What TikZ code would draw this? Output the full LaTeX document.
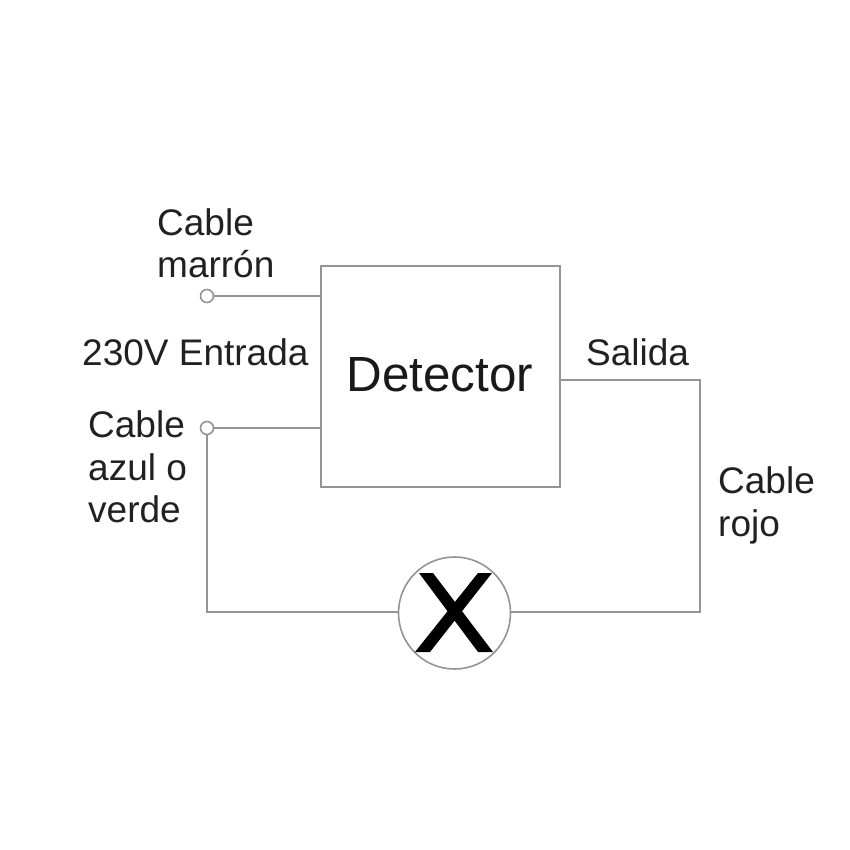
\documentclass[tikz,border=0pt]{standalone}
\usepackage{fontspec}
\setmainfont{Liberation Sans}
\definecolor{wire}{gray}{0.58}
\definecolor{ink}{gray}{0.13}
\tikzset{
  wireline/.style={draw=wire,line width=2pt},
  lbl/.style={inner sep=0pt,text=ink,font=\fontsize{37}{42}\selectfont,anchor=base west,align=left},
  terminal/.style={circle,draw=wire,fill=white,line width=1.6pt,minimum size=13pt,inner sep=0pt},
}
\begin{document}
\begin{tikzpicture}[x=1pt,y=-1pt]
\useasboundingbox (0,0) rectangle (850,850);
\fill[white] (0,0) rectangle (850,850);
\node[draw=wire,line width=2pt,minimum width=239pt,minimum height=220.5pt,inner sep=0pt,anchor=north west] (det) at (319.5,265) {};
\node[inner sep=0pt,text=black!90,font=\fontsize{49.4}{55}\selectfont] (dettext) at (440,375) {Detector};
\node[terminal] (t1) at (207,296) {};
\node[terminal] (t2) at (207,428) {};
\coordinate (a1) at (320,296);
\coordinate (a2) at (320,428);
\coordinate (out) at (558.5,380);
\node[circle,draw=wire,line width=1.6pt,fill=white,minimum size=112pt,inner sep=0pt] (lamp) at (454.5,613) {};
\coordinate (c1) at (207,612);
\coordinate (c2) at (700,612);
\coordinate (c3) at (700,380);
\draw[wireline] (t1) -- (a1);
\draw[wireline] (t2) -- (a2);
\draw[wireline] (t2) -- (c1) -- (lamp.west |- c1);
\draw[wireline] (out) -- (c3) -- (c2) -- (lamp.east |- c2);
\fill[black] (419,573) -- (433,573) -- (493,652) -- (478,652) -- cycle;
\fill[black] (478,573) -- (492,573) -- (430,652) -- (415,652) -- cycle;
\node[lbl] (n1) at (157,235) {Cable};
\node[lbl] (n2) at (157,277) {marrón};
\node[lbl] (n3) at (82,365) {230V Entrada};
\node[lbl] (n4) at (88,437) {Cable};
\node[lbl] (n5) at (88,480) {azul o};
\node[lbl] (n6) at (88,522) {verde};
\node[lbl] (n7) at (586,365) {Salida};
\node[lbl] (n8) at (718,493) {Cable};
\node[lbl] (n9) at (718,536) {rojo};
\end{tikzpicture}
\end{document}
